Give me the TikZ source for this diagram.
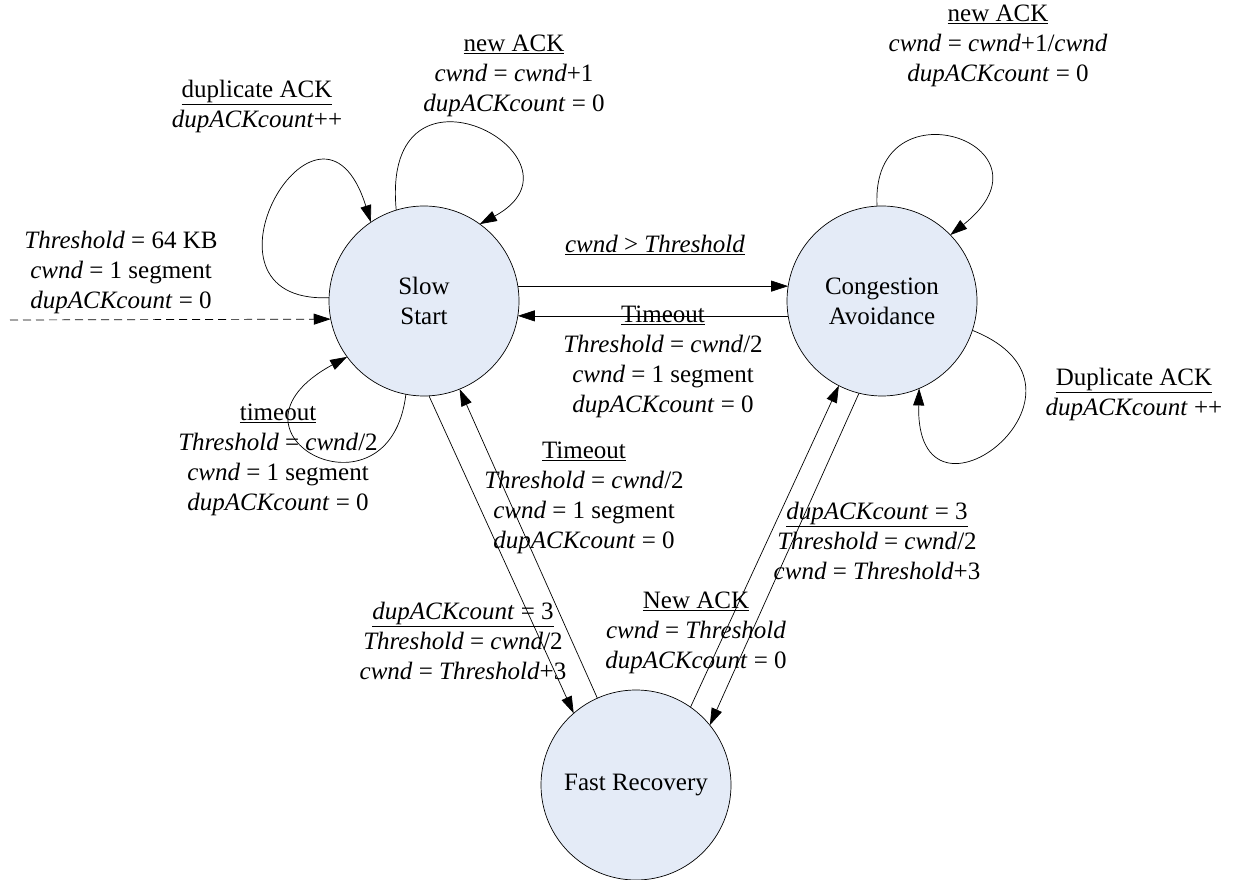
\documentclass[tikz,border=0pt]{standalone}
\usepackage{fontspec}
\setmainfont{Liberation Serif}
\usetikzlibrary{arrows.meta}
\definecolor{statefill}{RGB}{228,235,247}
\tikzset{
  state/.style={circle, draw, fill=statefill, line width=0.7pt, minimum size=190pt, inner sep=0pt, outer sep=0pt, align=center},
  lbl/.style={anchor=north, align=center, inner sep=0pt, execute at begin node=\strut},
  trans/.style={line width=0.7pt, -{Triangle[length=17pt,width=11pt]}}
}
\newcommand{\vr}[1]{\textit{#1}}

\begin{document}
\begin{tikzpicture}[x=1pt, y=1pt, font=\fontsize{25}{30}\selectfont]
    \useasboundingbox (0,0) rectangle (1237,879);
    \node[state] (ss) at (424,578) {Slow\\Start};
    \node[state] (ca) at (882,578) {Congestion\\Avoidance};
    \node[state] (fr) at (636,94) {Fast Recovery};
    \coordinate (init) at (10,559);
    \draw[trans, dash pattern=on 8pt off 5pt] (init) -- (ss.191.5);
    \draw[trans] (ss.9) -- (ca.171);
    \draw[trans] (ca.189) -- (ss.351);
    \draw[trans] (ss.273) -- (fr.131);
    \draw[trans] (fr.114) -- (ss.292);
    \draw[trans] (fr.55) -- (ca.243);
    \draw[trans] (ca.256) -- (fr.39);
    \draw[trans] (ss.178) .. controls (180,575) and (320,820) .. (ss.124);
    \draw[trans] (ss.107) .. controls (380,840) and (600,720) .. (ss.54);
    \draw[trans] (ss.259) .. controls (390,350) and (205,445) .. (ss.216);
    \draw[trans] (ca.93) .. controls (870,800) and (1065,735) .. (ca.44);
    \draw[trans] (ca.342) .. controls (1120,490) and (915,330) .. (ca.293);
    \node[lbl] (initlbl) at (121,648) {\vr{Threshold} = 64 KB\\\vr{cwnd} = 1 segment\\\vr{dupACKcount} = 0};
    \node[lbl] (sscalbl) at (655,648) {\underline{\vr{cwnd} > \vr{Threshold}}};
    \node[lbl] (casslbl) at (663,573) {\underline{Timeout}\\\vr{Threshold} = \vr{cwnd}/2\\\vr{cwnd} = 1 segment\\\vr{dupACKcount} = 0};
    \node[lbl] (ssduplbl) at (257,799) {\underline{duplicate ACK}\\\vr{dupACKcount}++};
    \node[lbl] (ssnewlbl) at (514,844) {\underline{new ACK}\\\vr{cwnd} = \vr{cwnd}+1\\\vr{dupACKcount} = 0};
    \node[lbl] (sstolbl) at (278,475) {\underline{timeout}\\\vr{Threshold} = \vr{cwnd}/2\\\vr{cwnd} = 1 segment\\\vr{dupACKcount} = 0};
    \node[lbl] (ssfrlbl) at (463,277) {\underline{\vr{dupACKcount} = 3}\\\vr{Threshold} = \vr{cwnd}/2\\\vr{cwnd} = \vr{Threshold}+3};
    \node[lbl] (frsslbl) at (584,437) {\underline{Timeout}\\\vr{Threshold} = \vr{cwnd}/2\\\vr{cwnd} = 1 segment\\\vr{dupACKcount} = 0};
    \node[lbl] (frcalbl) at (696,287) {\underline{New ACK}\\\vr{cwnd} = \vr{Threshold}\\\vr{dupACKcount} = 0};
    \node[lbl] (cafrlbl) at (877,377) {\underline{\vr{dupACKcount} = 3}\\\vr{Threshold} = \vr{cwnd}/2\\\vr{cwnd} = \vr{Threshold}+3};
    \node[lbl] (canewlbl) at (998,874) {\underline{new ACK}\\\vr{cwnd} = \vr{cwnd}+1/\vr{cwnd}\\\vr{dupACKcount} = 0};
    \node[lbl] (caduplbl) at (1134,511) {\underline{Duplicate ACK}\\\vr{dupACKcount} ++};
\end{tikzpicture}
\end{document}
